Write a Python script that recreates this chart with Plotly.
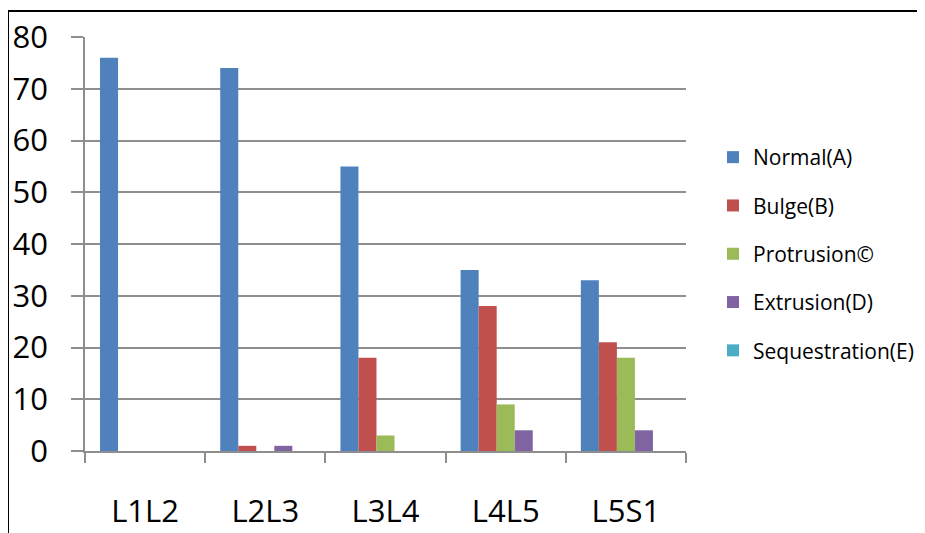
import plotly.graph_objects as go

categories = ["L1L2", "L2L3", "L3L4", "L4L5", "L5S1"]
series_names = ["Normal(A)", "Bulge(B)", "Protrusion©", "Extrusion(D)", "Sequestration(E)"]
normal = [76, 74, 55, 35, 33]
bulge = [0, 1, 18, 28, 21]
protrusion = [0, 0, 3, 9, 18]
extrusion = [0, 1, 0, 4, 4]
sequestration = [0, 0, 0, 0, 0]
colors = ["#4F81BD", "#C0504D", "#9BBB59", "#8064A2", "#4BACC6"]
y_ticks = [0, 10, 20, 30, 40, 50, 60, 70, 80]

OFF = 8  # page body margin
W, H = 925, 533
# plot area in screen pixels
L, R, T, B = 85, 686, 37, 451

def px_x(p):
    return (p - L) / (R - L)

def px_y(p):
    return (B - p) / (B - T)

fig = go.Figure()
for name, vals, col in zip(series_names, [normal, bulge, protrusion, extrusion, sequestration], colors):
    fig.add_trace(go.Bar(x=categories, y=vals, name=name, marker_color=col,
                         marker_line_width=0, legendgroup=name))

grid = "#8e8e8e"
fig.update_layout(
    width=W, height=H,
    margin=dict(l=L - OFF, r=W - (R - OFF), t=T - OFF, b=H - (B - OFF), pad=0,
                autoexpand=False),
    paper_bgcolor="white", plot_bgcolor="white",
    barmode="group", bargap=0.25, bargroupgap=0,
    font=dict(family="Open Sans", color="#000000"),
    xaxis=dict(showgrid=False, showline=True, linecolor=grid, linewidth=1.5,
               ticks="outside", tickcolor=grid, ticklen=10, tickwidth=1.5,
               tickson="boundaries", tickfont=dict(size=31),
               ticklabelstandoff=32, automargin=False),
    yaxis=dict(range=[0, 80], tickvals=y_ticks, showgrid=True, gridcolor=grid,
               gridwidth=1.5, showline=True, linecolor=grid, linewidth=1.5,
               ticks="outside", tickcolor=grid, ticklen=12, tickwidth=1.5,
               tickfont=dict(size=31), ticklabelstandoff=17, zeroline=False,
               automargin=False),
    legend=dict(x=px_x(713), y=px_y(137), xanchor="left", yanchor="top",
                font=dict(size=21), tracegroupgap=18, itemwidth=30,
                bgcolor="rgba(0,0,0,0)"),
    showlegend=True,
)

fig.add_shape(type="line", xref="paper", yref="paper",
              x0=px_x(8), x1=px_x(940), y0=px_y(11), y1=px_y(11),
              line=dict(color="black", width=2))
fig.add_shape(type="line", xref="paper", yref="paper",
              x0=px_x(8), x1=px_x(8), y0=px_y(11), y1=px_y(545),
              line=dict(color="black", width=2))

fig.write_html("out.html")
